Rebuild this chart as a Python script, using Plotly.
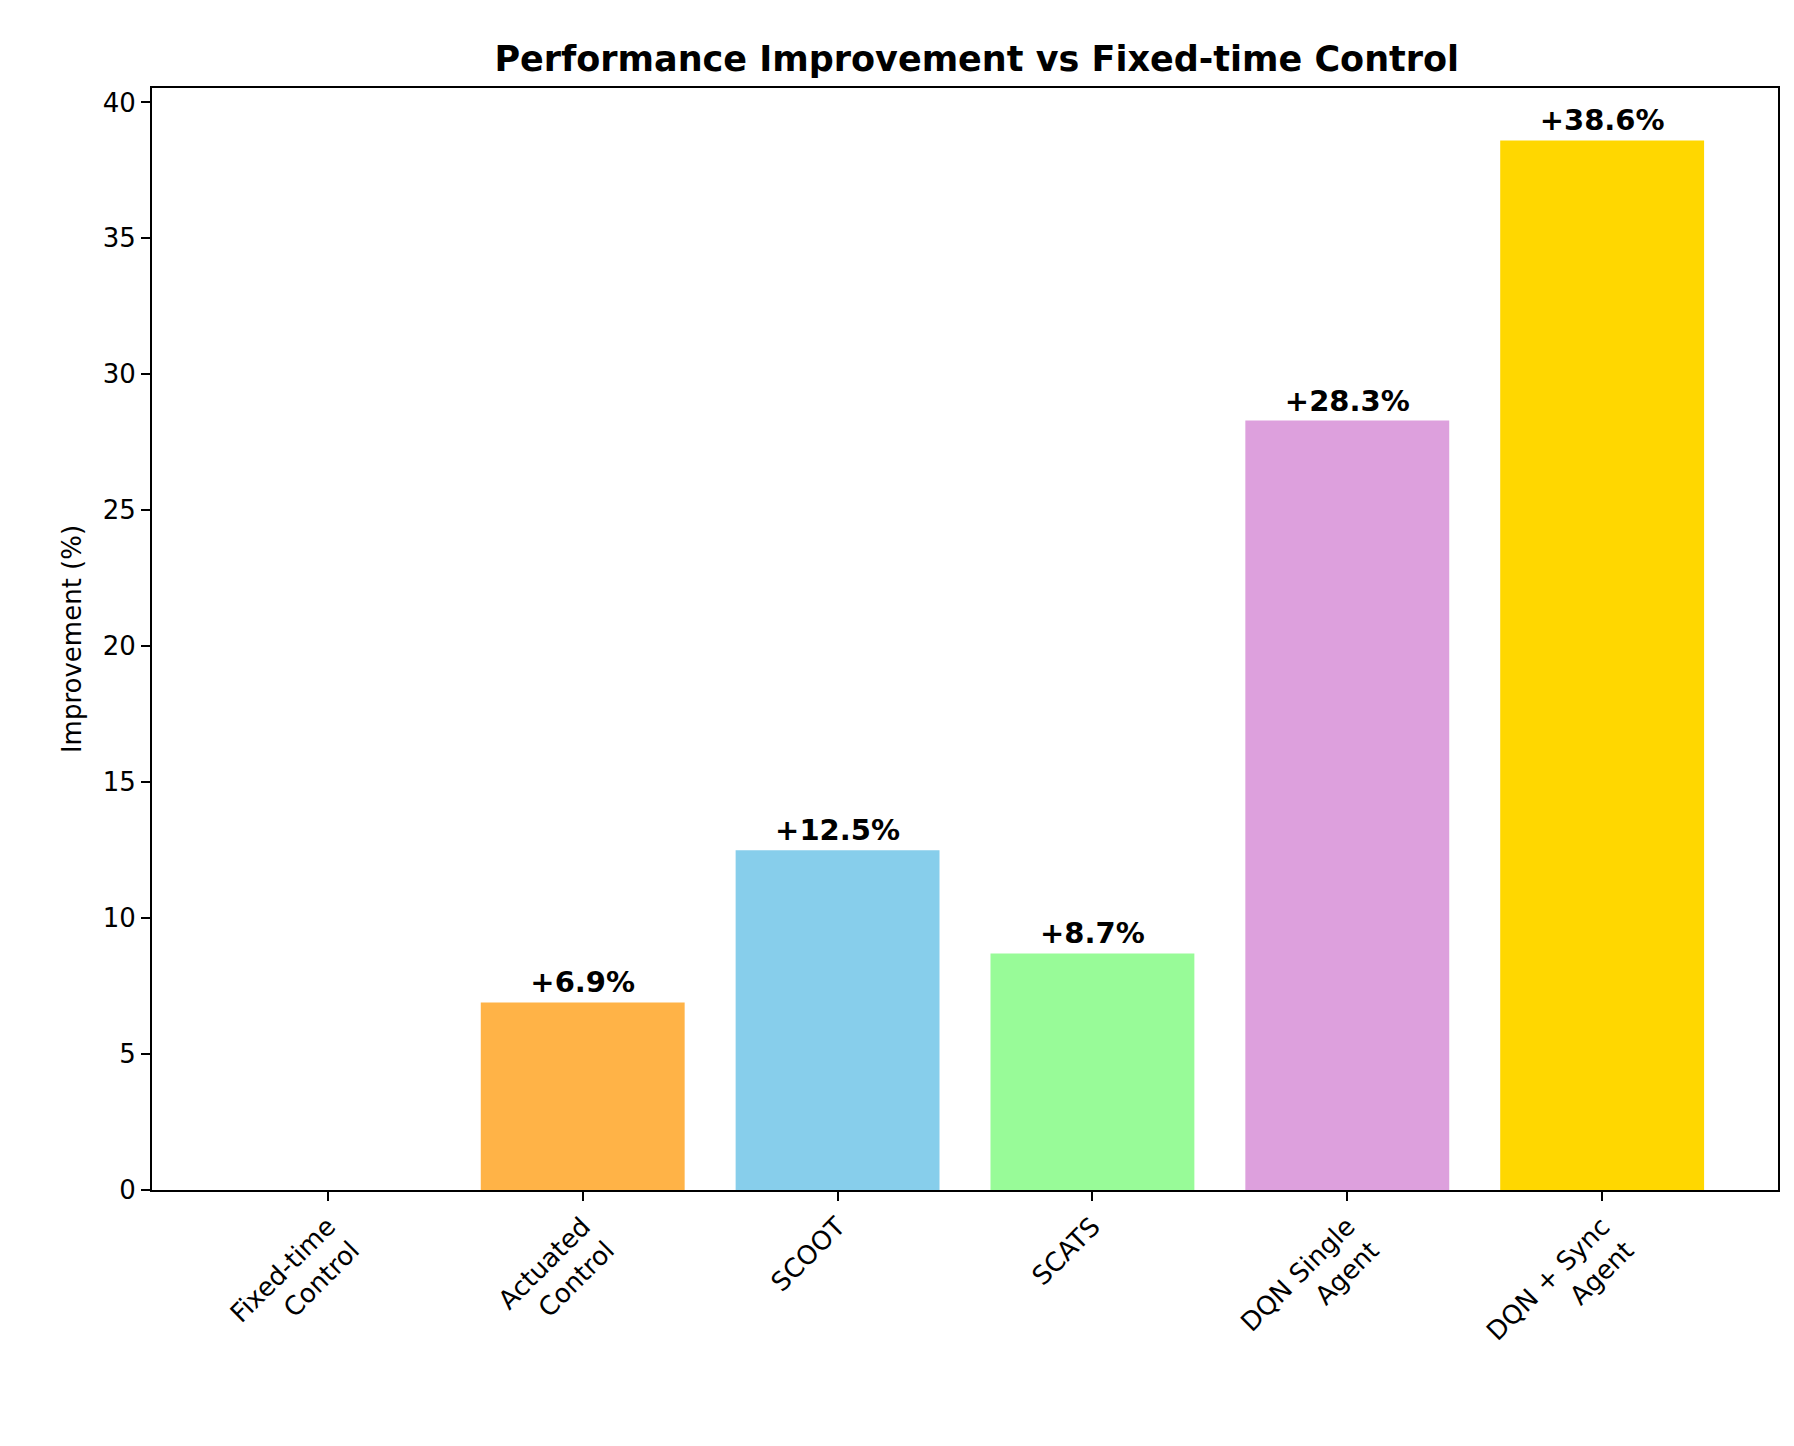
import plotly.graph_objects as go

methods = ["Fixed-time<br>Control", "Actuated<br>Control", "SCOOT", "SCATS",
           "DQN Single<br>Agent", "DQN + Sync<br>Agent"]
improvement = [0.0, 6.9, 12.5, 8.7, 28.3, 38.6]
colors = ["#A9A9A9", "#FFB347", "#87CEEB", "#98FB98", "#DDA0DD", "#FFD700"]

labels = ["" if v == 0 else f"+{v:.1f}%" for v in improvement]

fig = go.Figure(go.Bar(
    x=list(range(len(methods))), y=improvement, width=0.8,
    marker=dict(color=colors, line=dict(width=0)),
    text=labels, textposition="outside", cliponaxis=False,
    textfont=dict(size=29, color="black", family="DejaVu Sans", weight="bold"),
))

axis_common = dict(showline=True, linecolor="black", linewidth=1.8, mirror=True,
                   ticks="outside", ticklen=9, tickwidth=1.8, tickcolor="black",
                   showgrid=False, zeroline=False,
                   tickfont=dict(size=26, color="black"))

fig.update_xaxes(range=[-0.69, 5.69], tickvals=list(range(len(methods))),
                 ticktext=methods, tickangle=-45, **axis_common)
fig.update_yaxes(range=[0, 40.53], dtick=5, title=dict(text="Improvement (%)",
                 font=dict(size=26, color="black"), standoff=14), **axis_common)

fig.update_layout(
    width=1794, height=1446,
    margin=dict(l=144, r=24, t=80, b=264),
    plot_bgcolor="white", paper_bgcolor="white",
    font=dict(family="DejaVu Sans", color="black"),
    title=dict(text="<b>Performance Improvement vs Fixed-time Control</b>",
               x=0.54, xanchor="center", y=0.965, yanchor="middle",
               font=dict(size=35, color="black")),
    showlegend=False,
)

fig.write_html("out.html")
